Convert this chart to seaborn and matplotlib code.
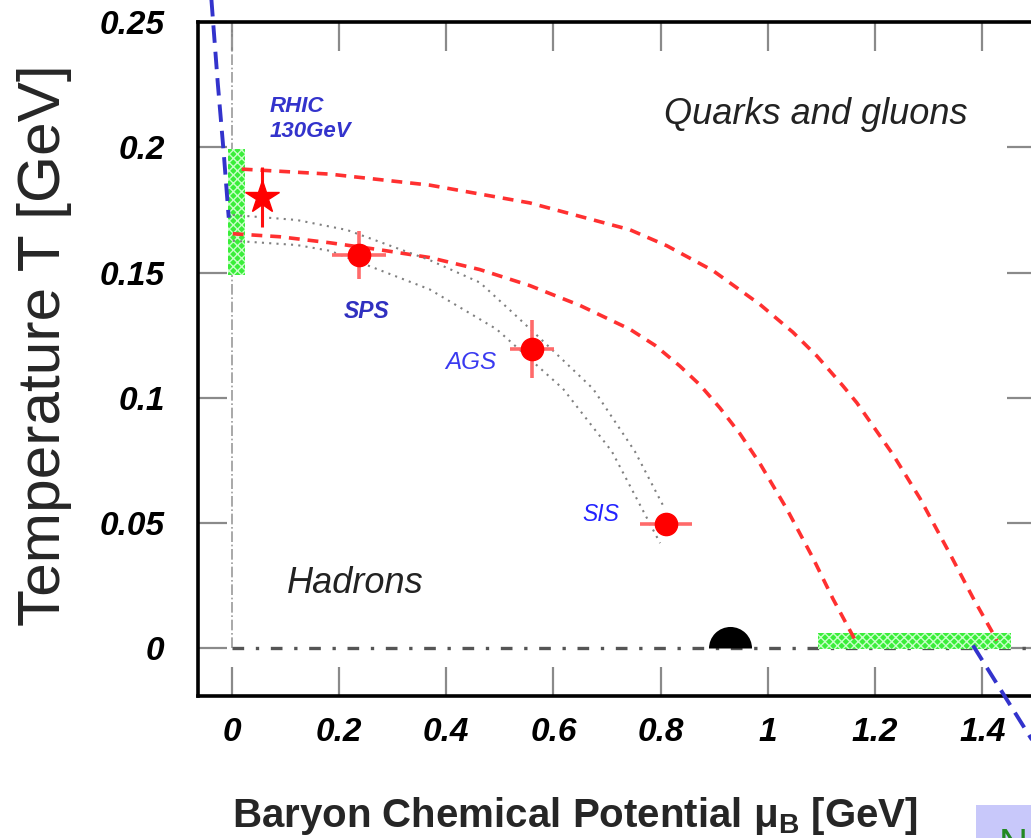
import numpy as np
import matplotlib
matplotlib.use("Agg")
import matplotlib.pyplot as plt
import matplotlib.patches as mpatches
import seaborn as sns

# Freeze-out points (mu_B [GeV], T [GeV]) with errors
labels = ["SPS", "AGS", "SIS"]
mu_pts = [0.237, 0.56, 0.81]
T_pts = [0.157, 0.1195, 0.0497]
mu_err = [0.050, 0.041, 0.049]
T_err = [0.0097, 0.0117, 0.0]

rhic_mu = [0.056]
rhic_T = [0.180]
rhic_Terr = [0.012]

# Phase boundary estimates (red dashed)
upper_mu = [0.0187, 0.1828, 0.3694, 0.5560, 0.7425, 0.8116, 0.8974, 0.9851, 1.0466,
            1.0914, 1.1399, 1.1660, 1.2332, 1.2836, 1.3396, 1.3825, 1.4272]
upper_T = [0.1913, 0.1893, 0.1849, 0.1778, 0.1671, 0.1607, 0.1508, 0.1373, 0.1262,
           0.1167, 0.1048, 0.0980, 0.0774, 0.0599, 0.0377, 0.0202, 0.0032]
lower_mu = [0.0019, 0.0896, 0.1828, 0.2761, 0.3694, 0.4627, 0.5560, 0.6493, 0.7425,
            0.7892, 0.8358, 0.8731, 0.9104, 0.9478, 0.9851, 1.0354, 1.0840, 1.1213,
            1.1660]
lower_T = [0.1655, 0.1643, 0.1619, 0.1591, 0.1560, 0.1512, 0.1448, 0.1369, 0.1274,
           0.1210, 0.1127, 0.1052, 0.0960, 0.0857, 0.0738, 0.0556, 0.0361, 0.0198,
           0.0020]

# Freeze-out curves (gray dotted)
fo_a_mu = [0.002, 0.121, 0.215, 0.369, 0.463, 0.524, 0.569, 0.674, 0.752, 0.808]
fo_a_T = [0.173, 0.171, 0.167, 0.155, 0.146, 0.134, 0.125, 0.1036, 0.0786, 0.0556]
fo_b_mu = [0.002, 0.121, 0.183, 0.276, 0.369, 0.494, 0.618, 0.709, 0.799]
fo_b_T = [0.1627, 0.161, 0.1587, 0.151, 0.1433, 0.1274, 0.1036, 0.0786, 0.042]

# Blue dashed overlay segments
blue_top_mu = [-0.040, -0.0373, -0.026, -0.0149, -0.0056]
blue_top_T = [0.265, 0.2573, 0.2255, 0.1977, 0.1719]
blue_bot_mu = [1.3825, 1.489, 1.507]
blue_bot_T = [0.0012, -0.0353, -0.0413]

# Hatched bands: lattice T_c range at mu_B=0 and transition at T=0
band_v_mu = [-0.007, 0.024]
band_v_T = [0.149, 0.1995]
band_h_mu = [1.093, 1.453]
band_h_T = [-0.0004, 0.006]

# Nuclear ground state
nucl_mu = [0.93]
nucl_T = [0.0]

xticks = [0, 0.2, 0.4, 0.6, 0.8, 1, 1.2, 1.4]
xticklabels = ["0", "0.2", "0.4", "0.6", "0.8", "1", "1.2", "1.4"]
yticks = [0, 0.05, 0.1, 0.15, 0.2, 0.25]
yticklabels = ["0", "0.05", "0.1", "0.15", "0.2", "0.25"]

sns.set_theme(style="ticks")
plt.rcParams["font.family"] = ["Liberation Sans", "DejaVu Sans"]
plt.rcParams["mathtext.fontset"] = "custom"
plt.rcParams["mathtext.rm"] = "Liberation Sans"
plt.rcParams["mathtext.bf"] = "Liberation Sans:bold"
plt.rcParams["hatch.linewidth"] = 1.0

fig = plt.figure(figsize=(10.31, 8.38), dpi=100)
ax = fig.add_axes([0.192, 0.1695, 0.8128, 0.8042])
ax.set_xlim(-0.063, 1.5)
ax.set_ylim(-0.019, 0.25)

# reference axes lines
ax.plot([0, 0], [0, 0.25], color="#9a9a9a", lw=1.2, ls="-.", zorder=1)
ax.plot([0, 1.5], [0, 0], color="#555555", lw=2.4, zorder=1,
        dashes=(3.5, 3.5, 1, 3.5))

# hatched bands
ax.fill_between(band_v_mu, band_v_T[0], band_v_T[1], facecolor="#3aee3a",
                edgecolor="#c8ffc8", hatch="xxxx", linewidth=0, zorder=2)
ax.fill_between(band_h_mu, band_h_T[0], band_h_T[1], facecolor="#3aee3a",
                edgecolor="#c8ffc8", hatch="xxxx", linewidth=0, zorder=2)

# phase boundaries
for xs, ys in [(upper_mu, upper_T), (lower_mu, lower_T)]:
    sns.lineplot(x=xs, y=ys, ax=ax, sort=False, estimator=None, color="#ff3030",
                 lw=2.6, dashes=(3.0, 2.2), zorder=3)

# freeze-out curves
for xs, ys in [(fo_a_mu, fo_a_T), (fo_b_mu, fo_b_T)]:
    sns.lineplot(x=xs, y=ys, ax=ax, sort=False, estimator=None, color="#808080",
                 lw=1.5, dashes=(1, 2.5), zorder=3)

# freeze-out points
ax.errorbar(mu_pts, T_pts, xerr=mu_err, yerr=T_err, fmt="o", color="#ff0000",
            ecolor="#ff6a6a", elinewidth=2.6, capsize=0, markersize=16, zorder=5)
ax.errorbar(rhic_mu, rhic_T, yerr=rhic_Terr, fmt="*", color="#ff0000",
            ecolor="#ff1010", elinewidth=2.2, capsize=0, markersize=25, zorder=5)

# nuclear ground state (half disc sitting on T=0)
ax.plot(nucl_mu, nucl_T, marker="o", markersize=31, fillstyle="top",
        markerfacecolor="black", markerfacecoloralt="none",
        markeredgewidth=0, ls="none", zorder=4, clip_on=False)

# blue dashed overlay
for xs, ys in [(blue_top_mu, blue_top_T), (blue_bot_mu, blue_bot_T)]:
    sns.lineplot(x=xs, y=ys, ax=ax, sort=False, estimator=None, color="#3333cc",
                 lw=2.8, dashes=(4.5, 2.3), zorder=6, clip_on=False)

# region and accelerator labels
ax.text(1.0886, 0.213, "Quarks and gluons", fontsize=26, style="italic",
        color="#222222", ha="center", va="center")
ax.text(0.2304, 0.0258, "Hadrons", fontsize=26, style="italic",
        color="#222222", ha="center", va="center")
ax.text(0.0709, 0.2203, "RHIC\n130GeV", fontsize=16, style="italic",
        fontweight="bold", color="#3333cc", ha="left", va="top", linespacing=1.2)
lab_pos = {"SPS": (0.252, 0.1346), "AGS": (0.446, 0.1143), "SIS": (0.688, 0.0536)}
lab_w = {"SPS": "bold", "AGS": "normal", "SIS": "normal"}
lab_c = {"SPS": "#3030c0", "AGS": "#3a3af0", "SIS": "#2222ff"}
lab_s = {"SPS": 16.5, "AGS": 17.5, "SIS": 16.5}
for name in labels:
    px, py = lab_pos[name]
    ax.text(px, py, name, fontsize=lab_s[name], style="italic",
            fontweight=lab_w[name], color=lab_c[name], ha="center", va="center")

# axes styling
ax.set_xticks(xticks)
ax.set_xticklabels(xticklabels, fontsize=24, fontweight="bold", style="italic")
ax.set_yticks(yticks)
ax.set_yticklabels(yticklabels, fontsize=24, fontweight="bold", style="italic")
ax.tick_params(axis="both", direction="in", length=21, width=1.6, color="#8a8a8a",
               top=True, right=True, labelcolor="black")
ax.tick_params(axis="x", pad=15)
ax.tick_params(axis="y", pad=24)
for s in ax.spines.values():
    s.set_linewidth(2.6)
    s.set_color("black")

ax.set_xlabel(r"Baryon Chemical Potential $\mathbf{\mu_B}$ [GeV]", fontsize=29,
              fontweight="bold")
ax.set_ylabel("Temperature T [GeV]", fontsize=43.5)
ax.xaxis.set_label_coords(0.45, -0.147)
ax.yaxis.set_label_coords(-0.150, 0.521)
ax.yaxis.label.set_va("bottom")

# corner note box
fig.patches.append(mpatches.Rectangle((976 / 1031, 0), 0.06, 33 / 838,
                                      transform=fig.transFigure,
                                      facecolor="#c8c8fa", edgecolor="none",
                                      zorder=0))
fig.text(999 / 1031, 11 / 838, "N", fontsize=29, color="#228822",
         ha="left", va="top")

fig.savefig("out.png", dpi=100)
